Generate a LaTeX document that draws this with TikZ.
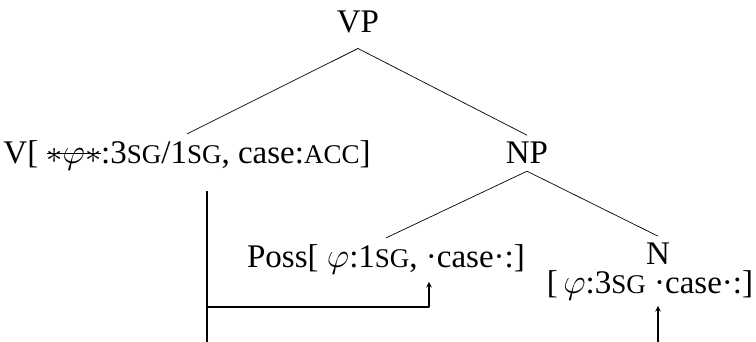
\documentclass[tikz,border=0pt]{standalone}
\usepackage{fontspec}
\setmainfont{Liberation Serif}
\newcommand\smc[1]{{\fontsize{27}{27}\selectfont #1}}
\newcommand\phif{\scalebox{1.4}{$\varphi$}}
\newcommand\astf{\scalebox{1.3}{$\ast$}}
\newcommand\strk[1]{\setbox0\hbox{#1}\rlap{\rule[0.3em]{\wd0}{0.8pt}}\box0}
\begin{document}
\begin{tikzpicture}[x=1pt, y=-1pt, font=\fontsize{33}{38}\selectfont, line join=round, >=stealth]
			\tikzset{lab/.style={anchor=base, inner xsep=0pt, inner ysep=7pt},
				branch/.style={line width=0.7pt},
				agree/.style={line width=1.4pt}}
			\useasboundingbox (0,0) rectangle (756,342);
			% tree
			\node[lab, outer ysep=8pt] (vp) at (358,33) {VP};
			\node[lab] (v) at (187,164) {V[ \strk{\astf\phif\astf}:3\smc{SG}/1\smc{SG}, case:\smc{ACC}]};
			\node[lab] (np) at (527,164) {NP};
			\node[lab] (poss) at (386,268) {Poss[ \phif:1\smc{SG}, {\textperiodcentered}case{\textperiodcentered}:]};
			\node[lab] (n) at (658,265) {N};
			\node[lab, inner ysep=5pt] (nfeat) at (650,294) {[\,\phif:3\smc{SG} {\textperiodcentered}case{\textperiodcentered}:]};
			\draw[branch] (vp.south)--(v.north);
			\draw[branch] (vp.south)--(np.north);
			\draw[branch] (np.south)--(poss.north);
			\draw[branch] (np.south)--(n.north);
			% agreement
			\coordinate (vfoot) at (207,342);
			\coordinate (turn) at (429,307);
			\coordinate (nfoot) at (658,342);
			\draw[agree] ([yshift=-13pt]v.south -| vfoot)--(vfoot);
			\draw[agree,->] (turn -| vfoot) -| (poss.south -| turn);
			\draw[agree,->] (nfoot)--(nfeat.south -| nfoot);
		\end{tikzpicture}
\end{document}
